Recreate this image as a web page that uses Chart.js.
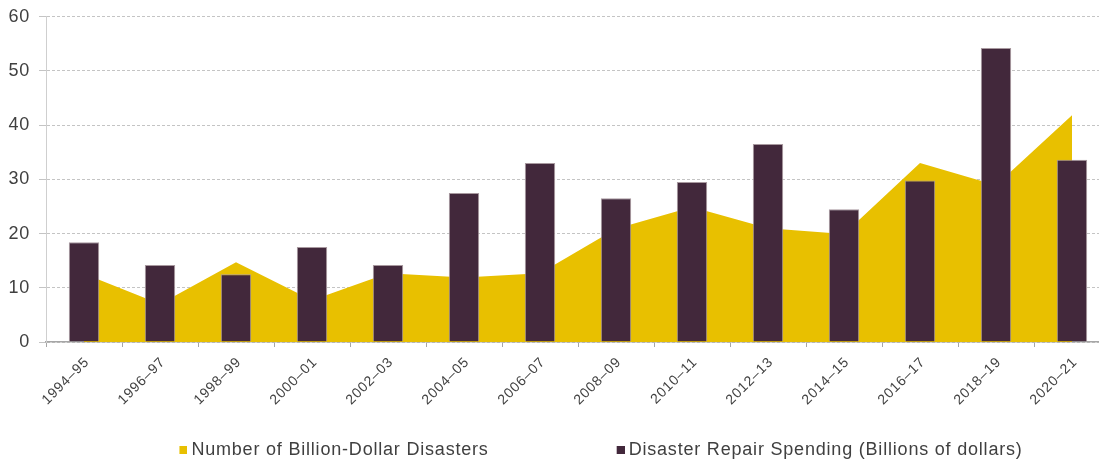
<!DOCTYPE html>
<html>
<head>
<meta charset="utf-8">
<script src="https://cdn.jsdelivr.net/npm/chart.js@4/dist/chart.umd.min.js"></script>
<style>
  html, body { margin: 0; padding: 0; background: #ffffff; overflow: hidden; width: 1099px; height: 466px; }
  #c { display: block; }
</style>
</head>
<body>
<canvas id="c" width="1110" height="466"></canvas>
<script>
// ---- data ----
const categories = ['1994–95','1996–97','1998–99','2000–01','2002–03','2004–05','2006–07','2008–09','2010–11','2012–13','2014–15','2016–17','2018–19','2020–21'];
const disasterCount = [12.6, 7.0, 14.7, 7.7, 12.7, 11.9, 12.7, 20.9, 24.9, 21.0, 19.9, 33.0, 28.9, 41.8];
const repairSpending = [18.4, 14.2, 12.5, 17.5, 14.2, 27.5, 33.0, 26.5, 29.5, 36.5, 24.5, 29.8, 54.2, 33.6];
const yTicks = [0, 10, 20, 30, 40, 50, 60];
const seriesNames = ['Number of Billion-Dollar Disasters', 'Disaster Repair Spending (Billions of dollars)'];

// ---- style ----
const YELLOW = '#E8C000';
const PURPLE = '#42283B';
const FONT = '"Liberation Sans", Arial, sans-serif';
const TEXT = '#404040';
const SPACING = '0.8px';
const LEGEND_PAD = 36;      // space between legend items (plus swatch area)
const LEGEND_BOX = 95;      // swatch area width
const LEGEND_H = 61;
const X_AXIS_H = 63;

function swatch(color) {
  const c = document.createElement('canvas');
  c.width = LEGEND_BOX + 10; c.height = 8;
  const g = c.getContext('2d');
  g.fillStyle = color;
  g.fillRect(c.width - 8, 0, 8, 8);
  return c;
}

const spacingPlugin = {
  id: 'letterSpacing',
  beforeInit(chart) { chart.ctx.letterSpacing = SPACING; },
  beforeUpdate(chart) { chart.ctx.letterSpacing = SPACING; },
  beforeDraw(chart) { chart.ctx.letterSpacing = SPACING; }
};

new Chart(document.getElementById('c'), {
  type: 'bar',
  plugins: [spacingPlugin],
  data: {
    labels: categories,
    datasets: [
      {
        type: 'line',
        label: seriesNames[0],
        data: disasterCount,
        backgroundColor: YELLOW,
        borderColor: YELLOW,
        borderWidth: 0,
        pointRadius: 0,
        fill: 'origin',
        tension: 0,
        order: 1
      },
      {
        type: 'bar',
        label: seriesNames[1],
        data: repairSpending,
        backgroundColor: PURPLE,
        borderColor: '#A8999F',
        borderWidth: 1,
        categoryPercentage: 1,
        barPercentage: 0.4,
        order: 0
      }
    ]
  },
  options: {
    responsive: false,
    animation: false,
    devicePixelRatio: 1,
    layout: { padding: { top: 0, left: 0, right: 0, bottom: 0 } },
    plugins: {
      tooltip: { enabled: false },
      legend: {
        position: 'bottom',
        align: 'center',
        maxHeight: LEGEND_H,
        labels: {
          usePointStyle: true,
          pointStyleWidth: LEGEND_BOX,
          boxHeight: 8,
          padding: LEGEND_PAD,
          color: TEXT,
          font: { family: FONT, size: 18 },
          sort: (a, b) => a.datasetIndex - b.datasetIndex,
          generateLabels(chart) {
            const items = Chart.defaults.plugins.legend.labels.generateLabels(chart);
            items.forEach(it => {
              it.pointStyle = swatch(chart.data.datasets[it.datasetIndex].backgroundColor);
            });
            return items;
          }
        }
      }
    },
    scales: {
      x: {
        offset: true,
        grid: {
          offset: true,
          drawOnChartArea: false,
          drawTicks: true,
          tickLength: 5,
          color: '#A6A6A6',
          tickColor: '#A6A6A6'
        },
        border: { display: true, color: '#A6A6A6', width: 1.5 },
        ticks: {
          color: TEXT,
          font: { family: FONT, size: 14 },
          maxRotation: 45,
          minRotation: 45,
          autoSkip: false,
          padding: 7,
          labelOffset: 3
        },
        afterFit(scale) { scale.height = X_AXIS_H; }
      },
      y: {
        min: 0,
        max: 60,
        afterBuildTicks(scale) { scale.ticks = yTicks.map(v => ({ value: v })); },
        grid: {
          color: '#C4C4C4',
          tickColor: '#C4C4C4',
          tickLength: 7,
          lineWidth: 1
        },
        border: { display: true, color: '#CFCFCF', width: 1, dash: [3, 2] },
        ticks: {
          color: TEXT,
          font: { family: FONT, size: 18, lineHeight: 0.85 },
          padding: 9
        },
        afterFit(scale) { scale.width = 46; }
      }
    }
  }
});
</script>
</body>
</html>
